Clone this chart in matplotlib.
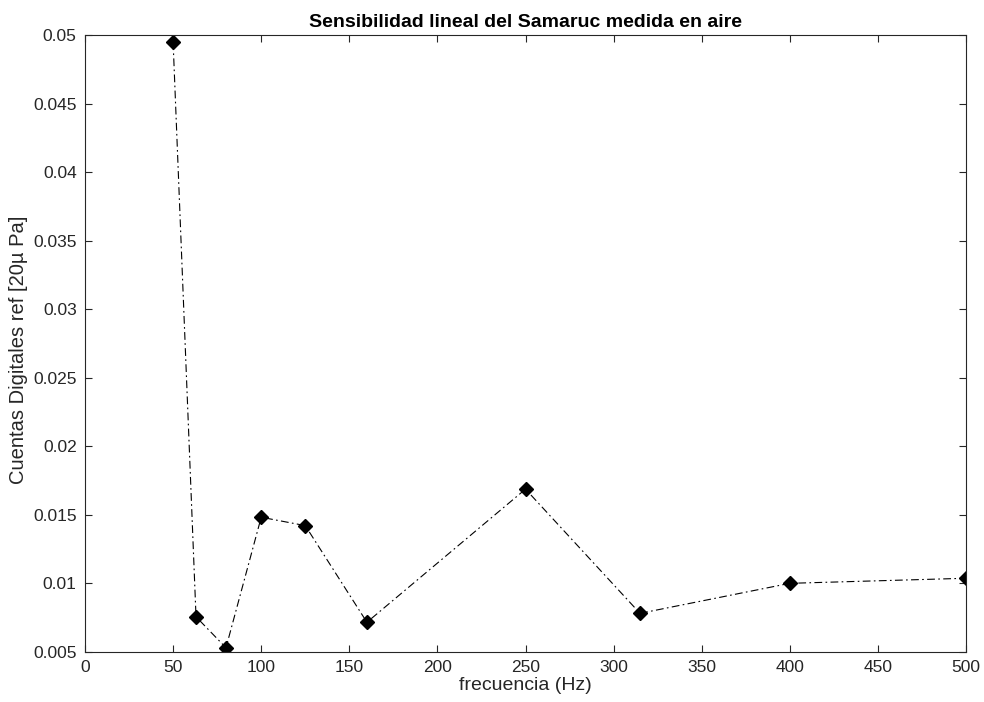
import matplotlib.pyplot as plt

plt.rcParams['font.family'] = ['Liberation Sans', 'DejaVu Sans']

# frecuencias de tercio de octava y sensibilidad medida
freq = [50, 63, 80, 100, 125, 160, 250, 315, 400, 500]
sens = [0.04947, 0.00757, 0.00531, 0.01483, 0.01422, 0.00717, 0.01688, 0.00782, 0.01001, 0.01038]

xticks = [0, 50, 100, 150, 200, 250, 300, 350, 400, 450, 500]
yticks = [0.005, 0.01, 0.015, 0.02, 0.025, 0.03, 0.035, 0.04, 0.045, 0.05]
ytick_labels = ['0.005', '0.01', '0.015', '0.02', '0.025', '0.03', '0.035', '0.04', '0.045', '0.05']

AXCOL = '#262626'

fig = plt.figure(figsize=(9.84, 7.02), dpi=100)
ax = fig.add_axes([0.0864, 0.0712, 0.8953, 0.8789])

ax.plot(freq, sens, linestyle=(0, (7, 3, 1.5, 3)), color='black', linewidth=0.8,
        marker='D', markersize=7.5, markerfacecolor='black', markeredgecolor='black')

ax.set_xlim(0, 500)
ax.set_ylim(0.005, 0.05)
ax.set_xticks(xticks)
ax.set_yticks(yticks)
ax.set_yticklabels(ytick_labels)

ax.tick_params(direction='in', top=True, right=True, length=5, width=0.8,
               colors=AXCOL, labelsize=12.5, labelcolor=AXCOL, pad=6)
for sp in ax.spines.values():
    sp.set_color(AXCOL)
    sp.set_linewidth(0.8)

ax.set_xlabel('frecuencia (Hz)', fontsize=14, color=AXCOL, labelpad=1)
ax.set_ylabel('Cuentas Digitales ref [20µ Pa]', fontsize=14.5, color=AXCOL)
ax.yaxis.set_label_coords(-0.0647, 0.49)
ax.set_title('Sensibilidad lineal del Samaruc medida en aire', fontsize=14,
             fontweight='bold', color='black', pad=6)

plt.savefig('out.png', dpi=100)
